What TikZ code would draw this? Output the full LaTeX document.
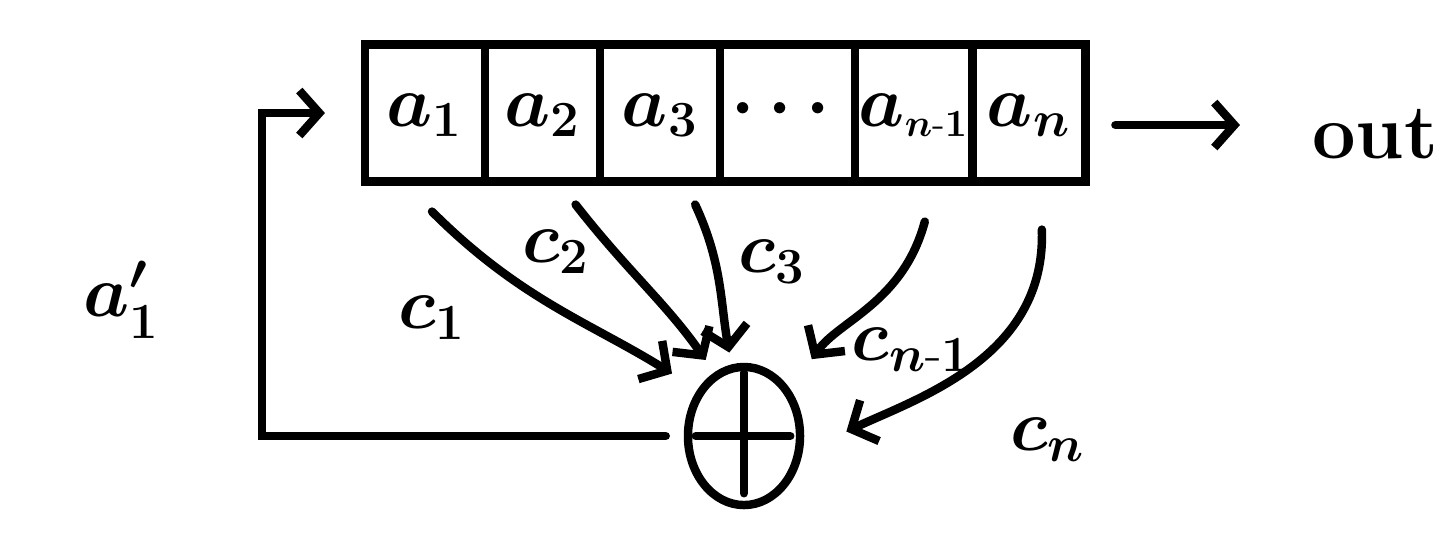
\documentclass[tikz,border=0pt]{standalone}
\usepackage{amsmath}
\usetikzlibrary{arrows.meta, positioning, shapes.geometric}

\begin{document}
\begin{tikzpicture}[
    x=0.01cm, y=-0.01cm,
    cell/.style={rectangle, draw, line width=2.4pt, minimum height=1.37cm, inner sep=0pt, outer sep=0pt, text height=0.36cm, text depth=0.1cm, font=\fontsize{22}{26}\selectfont\boldmath},
    xorgate/.style={ellipse, draw, line width=2.4pt, minimum width=1.12cm, minimum height=1.38cm, inner sep=0pt},
    arrow/.style={-{Straight Barb[length=2mm, width=4.5mm]}, line width=2.4pt, line cap=round},
    stroke/.style={line width=2.4pt, line cap=round},
    lbl/.style={font=\fontsize{22}{26}\selectfont\boldmath},
]
\useasboundingbox (0,0) rectangle (1454,544);

% Register
\node[cell, minimum width=1.2cm] (a1) at (425,113) {$a_1$};
\node[cell, minimum width=1.15cm, right=0pt of a1] (a2) {$a_2$};
\node[cell, minimum width=1.2cm, right=0pt of a2] (a3) {$a_3$};
\node[cell, minimum width=1.35cm, right=0pt of a3] (dots) {$\cdots$};
\node[cell, minimum width=1.17cm, right=0pt of dots] (an1) {$a_{\scriptscriptstyle n\text{-}1}$};
\node[cell, minimum width=1.13cm, right=0pt of an1] (an) {$a_n$};

% Output
\node[lbl, font=\fontsize{22}{26}\selectfont\bfseries, anchor=base west] (out) at (1300,158) {out};
\draw[arrow, shorten <=0.3cm, shorten >=0.6cm] ([yshift=-0.12cm]an.east) -- ([yshift=-0.12cm]an.east -| out.west);

% Adder
\node[xorgate] (xor) at (744,436) {};
\draw[stroke, shorten <=0.1cm, shorten >=0.16cm] (xor.north) -- (xor.south);
\draw[stroke, shorten <=0.12cm, shorten >=0.14cm] (xor.west) -- (xor.east);

% Taps
\draw[arrow, shorten >=0.3cm] ([shift={(0.07cm,-0.3cm)}]a1.south) to[out=-45, in=148] (xor.135);
\draw[arrow, shorten >=0.15cm] ([shift={(0.33cm,-0.23cm)}]a2.south) to[out=-52, in=125] (xor.115);
\draw[arrow, shorten >=0.12cm] ([shift={(0.35cm,-0.23cm)}]a3.south) to[out=-65, in=100] (xor.100);
\draw[arrow, shorten >=0.37cm] ([shift={(0.11cm,-0.4cm)}]an1.south) to[out=-105, in=55] (xor.45);
\draw[arrow, shorten >=0.48cm] ([shift={(0.13cm,-0.48cm)}]an.south) to[out=-88, in=25] (xor.-15);

% Tap labels
\node[lbl] (c1) at (432,318) {$c_1$};
\node[lbl] (c2) at (556,252) {$c_2$};
\node[lbl] (c3) at (772,262) {$c_3$};
\node[lbl] (cn1) at (912,350) {$c_{n\text{-}1}$};
\node[lbl] (cn) at (1048,440) {$c_n$};

% Feedback
\coordinate (fbcorner) at (262,447);
\draw[arrow, shorten <=0.18cm, shorten >=0.4cm] (xor.west) -- (xor.west -| fbcorner) |- (a1.west);
\node[lbl] (fb) at (122,300) {$a_1'$};

\end{tikzpicture}
\end{document}
